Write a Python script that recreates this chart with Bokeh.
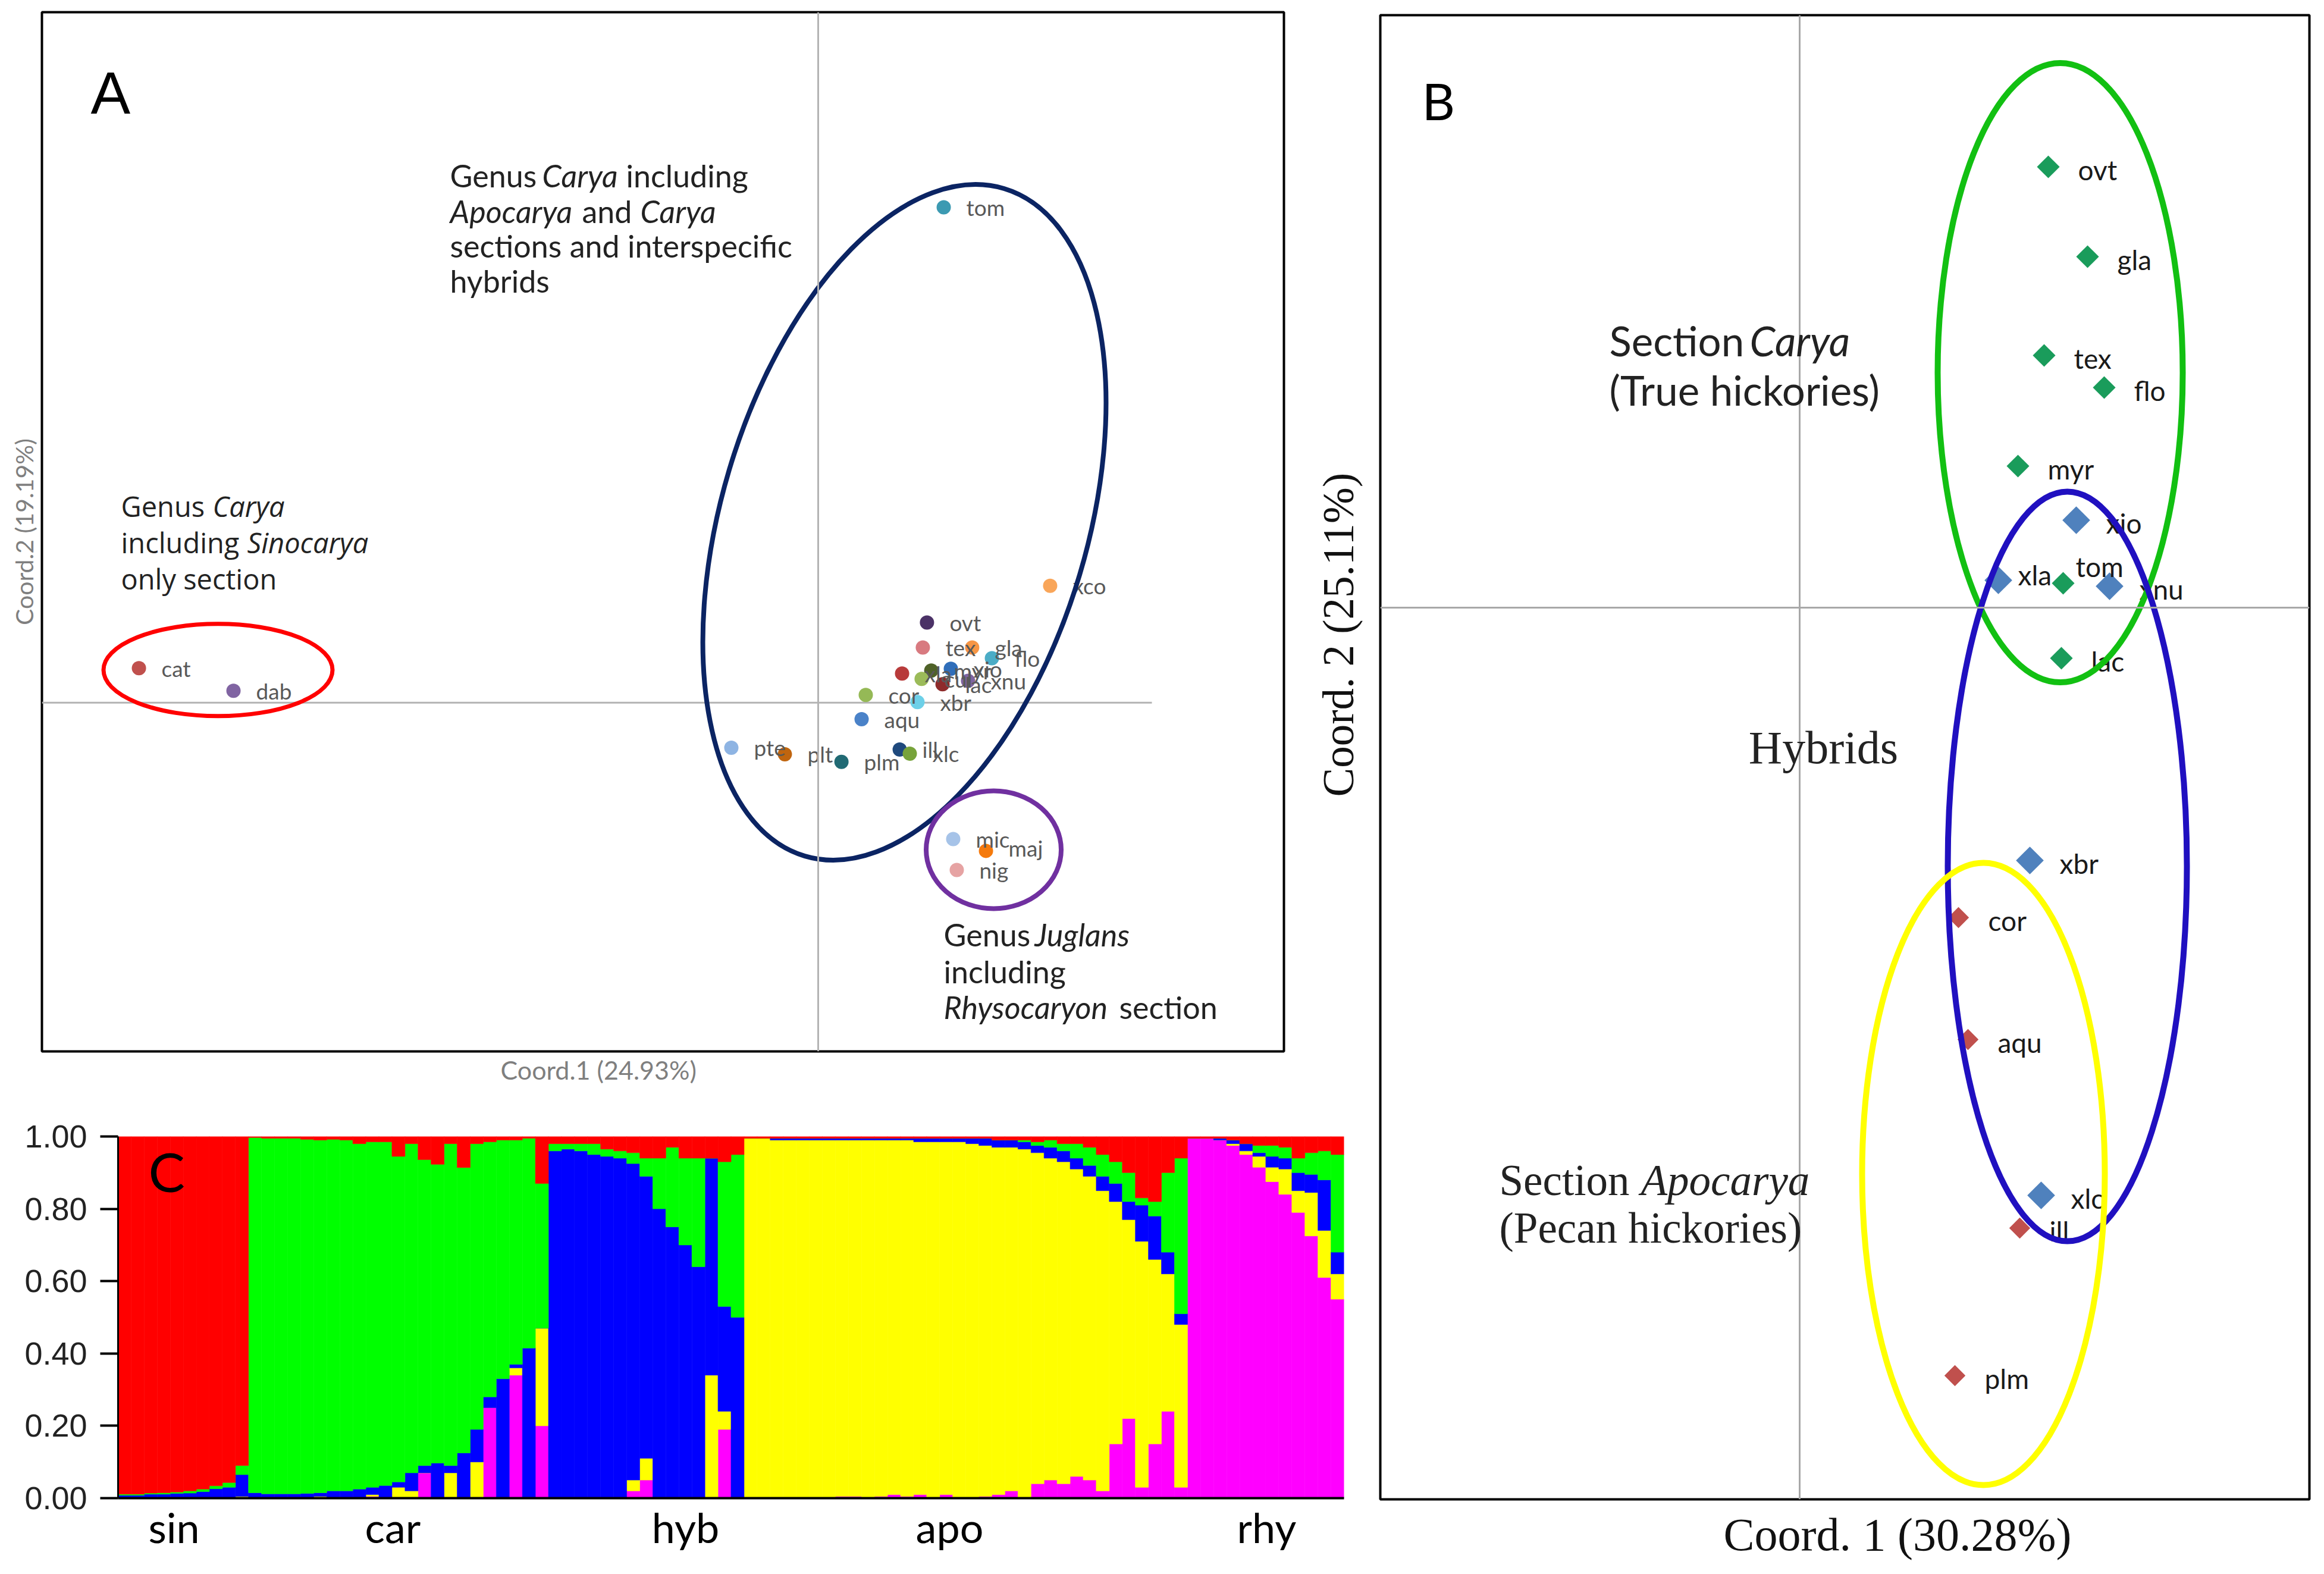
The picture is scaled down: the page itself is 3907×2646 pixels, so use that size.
import numpy as np
from bokeh.plotting import figure
from bokeh.models import (ColumnDataSource, Label, Span, FixedTicker, Title, GridBox,
                          PrintfTickFormatter, Range1d)
from bokeh.core.properties import value
from bokeh.embed import file_html
from bokeh.resources import INLINE

# ====================== DATA ======================
# Panel A : PCoA of all taxa (Coord.1 24.93 %, Coord.2 19.19 %)
a_species = ["tom", "xco", "ovt", "tex", "gla", "flo", "xla", "myr", "xio", "cul",
             "lac", "xnu", "cor", "xbr", "aqu", "pte", "plt", "plm", "ill", "xlc",
             "mic", "maj", "nig", "cat", "dab"]
a_coord1 = [0.847, 1.565, 0.734, 0.706, 1.039, 1.172, 0.566, 0.763, 0.895, 0.698,
            0.839, 1.011, 0.321, 0.670, 0.293, -0.586, -0.225, 0.157, 0.550, 0.618,
            0.911, 1.132, 0.935, -4.583, -3.945]
a_coord2 = [3.351, 0.791, 0.542, 0.373, 0.373, 0.301, 0.197, 0.217, 0.229, 0.161,
            0.124, 0.148, 0.052, 0.004, -0.112, -0.305, -0.349, -0.401, -0.317, -0.345,
            -0.923, -1.003, -1.132, 0.233, 0.080]

# Panel B : PCoA of Carya sections + hybrids (Coord.1 30.28 %, Coord.2 25.11 %)
b_species = ["ovt", "gla", "tex", "flo", "myr", "tom", "lac",
             "xio", "xla", "xnu", "xbr", "xlc",
             "cor", "aqu", "ill", "plm"]
b_group = ["Carya"] * 7 + ["Hybrid"] * 5 + ["Apocarya"] * 4
b_coord1 = [0.418, 0.484, 0.411, 0.512, 0.367, 0.443, 0.440,
            0.465, 0.334, 0.521, 0.387, 0.406,
            0.267, 0.283, 0.370, 0.261]
b_coord2 = [0.741, 0.590, 0.424, 0.370, 0.238, 0.041, -0.085,
            0.147, 0.046, 0.036, -0.425, -0.988,
            -0.521, -0.726, -1.043, -1.291]

# Panel C : STRUCTURE membership (K = 5), individuals grouped
c_groups = ["sin", "car", "hyb", "apo", "rhy"]
c_group_sizes = [10, 23, 15, 34, 12]
q_magenta = [0, 0, 0, 0, 0, 0, 0, 0, 0, 0,
             0, 0, 0, 0, 0, 0, 0, 0, 0, .005, 0, 0, 0, .07, 0, 0, 0, 0, .25, 0, .34, 0, .20,
             0, 0, 0, 0, 0, 0, .02, .05, 0, 0, 0, 0, 0, .19, 0,
             0, 0, 0, 0, 0, 0, 0, .005, .005, 0, .005, .01, .005, .01, 0, .01, 0, 0, .005, .01,
             .02, 0, .04, .05, .04, .06, .05, .02, .15, .22, .03, .15, .24, .03,
             .995, .995, .99, .975, .95, .915, .875, .84, .79, .725, .61, .55]
q_yellow = [0, 0, .002, 0, .002, 0, 0, .002, 0, .005,
            0, 0, 0, 0, 0, .005, 0, 0, 0, .005, 0, .03, .02, 0, 0, .07, 0, .10, 0, 0, .02, 0, .27,
            0, 0, 0, 0, 0, 0, .03, .06, 0, 0, 0, 0, .34, .05, 0,
            .995, .995, .99, .99, .99, .99, .99, .985, .985, .99, .985, .98, .985, .975, .985, .975, .985, .98,
            .97, .96, .95, .965, .915, .89, .89, .85, .84, .83, .67, .55, .68, .51, .38, .45,
            0, 0, 0, .005, .01, .03, .04, .07, .06, .12, .13, .07]
q_blue = [.008, .008, .009, .011, .011, .014, .018, .024, .03, .06,
          .015, .012, .012, .012, .013, .01, .02, .02, .025, .02, .035, .015, .05, .02, .097, .02, .125, .09, .03, .33, .01, .415, 0,
          .96, .965, .96, .95, .945, .94, .875, .78, .80, .75, .70, .64, .60, .29, .50,
          0, 0, .005, .005, .005, .005, .005, .005, .005, .005, .005, .005, .005, .01, .01, .01, .01, .015,
          .02, .02, .02, .02, .02, .03, .03, .03, .03, .04, .05, .05, .10, .12, .06, .03,
          0, 0, .005, .01, .02, .01, .03, .03, .05, .05, .14, .06]
q_green = [.003, .003, .003, .004, .004, .006, .007, .008, .013, .025,
           .982, .983, .983, .983, .979, .975, .972, .97, .955, .955, .95, .90, .91, .846, .826, .89, .789, .79, .705, .66, .62, .58, .40,
           .02, .015, .02, .03, .02, .02, .03, .05, .14, .22, .24, .30, 0, .40, .45,
           0, 0, 0, 0, 0, 0, 0, 0, 0, 0, 0, 0, 0, 0, 0, 0, 0, 0,
           0, 0, 0, .005, .01, .02, .02, .04, .05, .06, .06, .08, .02, .04, .22, .43,
           0, 0, 0, 0, 0, .02, .03, .03, .04, .06, .08, .27]
q_red = [.989, .989, .986, .985, .983, .98, .975, .966, .957, .91,
         .003, .005, .005, .005, .008, .01, .008, .01, .02, .015, .015, .055, .02, .064, .077, .02, .086, .02, .015, .01, .01, .005, .13,
         .02, .02, .02, .02, .035, .04, .045, .06, .06, .03, .06, .06, .06, .07, .05,
         .005, .005, .005, .005, .005, .005, .005, .005, .005, .005, .005, .005, .005, .005, .005, .005, .005, .005,
         .005, .01, .01, .01, .015, .01, .02, .02, .03, .05, .07, .10, .17, .18, .10, .06,
         .005, .005, .005, .01, .02, .025, .025, .03, .06, .045, .04, .05]
c_label_pos = [4.29, 21.07, 43.51, 63.76, 88.07]   # where the group names sit

# ====================== STYLE ======================
a_colors = {"tom": "#3c9ab2", "xco": "#f9a65a", "ovt": "#4b3267", "tex": "#d87a80",
            "gla": "#f79646", "flo": "#4bacc6", "xla": "#b83b3b", "myr": "#4f6228",
            "xio": "#2f6eba", "cul": "#9bbb59", "lac": "#8e2b2b", "xnu": "#7e64a0",
            "cor": "#95b956", "xbr": "#6dd0e8", "aqu": "#4a82c8", "pte": "#8eb4e3",
            "plt": "#c0650f", "plm": "#216a74", "ill": "#1f497d", "xlc": "#77a33a",
            "mic": "#a6c3e8", "maj": "#f57a0c", "nig": "#e6a3a3", "cat": "#c0504d",
            "dab": "#8064a2"}
a_label_dy = {"maj": -5}
b_style = {"Carya": ("#1a9c5b", 27), "Hybrid": ("#4f81bd", 33), "Apocarya": ("#c0504d", 25)}
b_label_off = {"xla": (33, -9), "tom": (21, -28)}
c_colors = ["#ff00ff", "#ffff00", "#0000ff", "#00ff00", "#ff0000"]
TXT = "#222222"
SER = "Liberation Serif"

def lab(fig, x, y, text, font="Lato", size=52, style="normal", color=TXT,
        align="left", baseline="middle", angle=0.0):
    fig.add_layout(Label(x=x, y=y, text=text, text_font=font,
                         text_font_size=f"{size}px", text_font_style=style,
                         text_color=color, text_align=align,
                         text_baseline=baseline, angle=angle))

def side_title(fig, text, side, align, offset, standoff, font, size, color, valign="bottom"):
    fig.add_layout(Title(text=text, align=align, offset=offset, standoff=standoff,
                         vertical_align=valign,
                         text_font=font, text_font_size=f"{size}px",
                         text_font_style="normal", text_color=color), side)

# page geometry (pixels)
MARGIN = 8
A_W, A_H = 2165, 1822
C_W, C_H = 2262, 812
B_W = 3899 - (MARGIN + A_W)
B_H = A_H + C_H

# ====================== PANEL A ======================
A_PX = 249.17
def ax(P): return (P - 1375) / A_PX
def ay(P): return (1184 - P) / A_PX

pa = figure(width=A_W, height=A_H, output_backend="svg", toolbar_location=None,
            x_axis_type=None, y_axis_type=None, frame_align=False,
            x_range=Range1d(ax(70), ax(2158)), y_range=Range1d(ay(1772), ay(20)),
            min_border_left=62, min_border_right=A_W - 62 - 2088,
            min_border_top=12, min_border_bottom=A_H - 12 - 1752)
pa.outline_line_color = "black"
pa.outline_line_width = 4
pa.add_layout(Span(location=0, dimension="height", line_color="#b4b4b4", line_width=3))
pa.segment(x0=[ax(70)], y0=[0], x1=[ax(1936)], y1=[0], line_color="#b4b4b4", line_width=3)

src_a = ColumnDataSource(dict(x=a_coord1, y=a_coord2, name=a_species,
                              color=[a_colors[s] for s in a_species],
                              dy=[a_label_dy.get(s, 0) for s in a_species]))
pa.scatter("x", "y", source=src_a, size=24, color="color", line_color=None)
pa.text("x", "y", text="name", source=src_a, x_offset=38, y_offset="dy",
        text_font=value("Lato"), text_font_size="37px", text_color="#595959",
        text_baseline="middle")

pa.ellipse(x=[ax(366)], y=[ay(1129)], width=385, height=155,
           width_units="screen", height_units="screen",
           fill_alpha=0, line_color="#ff0000", line_width=7)
pa.ellipse(x=[ax(1520)], y=[ay(880)], width=615, height=1171, angle=-0.29,
           width_units="screen", height_units="screen",
           fill_alpha=0, line_color="#0b2463", line_width=8)
pa.ellipse(x=[ax(1670)], y=[ay(1432)], width=227, height=198,
           width_units="screen", height_units="screen",
           fill_alpha=0, line_color="#7030a0", line_width=8)

lab(pa, ax(152), ay(156), "A", font="Liberation Sans", size=100, color="black")
# block 1
lab(pa, ax(756), ay(295), "Genus")
lab(pa, ax(911), ay(295), "Carya", style="italic")
lab(pa, ax(1052), ay(295), "including")
lab(pa, ax(756), ay(355), "Apocarya", style="italic")
lab(pa, ax(978), ay(355), "and")
lab(pa, ax(1076), ay(355), "Carya", style="italic")
lab(pa, ax(756), ay(414), "sections and interspecific")
lab(pa, ax(756), ay(473), "hybrids")
# block 2
lab(pa, ax(203), ay(853), "Genus", font="Open Sans", size=47)
lab(pa, ax(357), ay(853), "Carya", font="Open Sans", size=47, style="italic")
lab(pa, ax(203), ay(914), "including", font="Open Sans", size=47)
lab(pa, ax(415), ay(914), "Sinocarya", font="Open Sans", size=47, style="italic")
lab(pa, ax(203), ay(975), "only section", font="Open Sans", size=47)
# block 3
lab(pa, ax(1586), ay(1575), "Genus")
lab(pa, ax(1739), ay(1575), "Juglans", style="italic")
lab(pa, ax(1586), ay(1637), "including")
lab(pa, ax(1586), ay(1697), "Rhysocaryon", style="italic")
lab(pa, ax(1881), ay(1697), "section")
# axis titles
side_title(pa, "Coord.1 (24.93%)", "below", "left", 771, 10, "Lato", 43, "#7f7f7f", "top")
side_title(pa, "Coord.2 (19.19%)", "left", "center", 0, 11, "Lato", 41, "#7f7f7f")

# ====================== PANEL C ======================
n_ind = sum(c_group_sizes)
src_c = ColumnDataSource(dict(x=[i + 0.5 for i in range(n_ind)],
                              m=q_magenta, yl=q_yellow, bl=q_blue, gr=q_green, rd=q_red))
pc = figure(width=C_W, height=C_H, output_backend="svg", toolbar_location=None,
            x_range=Range1d(0, n_ind), y_range=Range1d(0, 1), frame_align=False,
            min_border_left=190, min_border_right=C_W - 190 - 2061,
            min_border_top=80, min_border_bottom=C_H - 80 - 608)
pc.outline_line_color = None
pc.border_fill_alpha = 0
pc.xgrid.visible = False
pc.ygrid.visible = False
pc.vbar_stack(["m", "yl", "bl", "gr", "rd"], x="x", width=1.0, color=c_colors,
              source=src_c, line_width=0.6)

pc.yaxis.ticker = FixedTicker(ticks=[0, 0.2, 0.4, 0.6, 0.8, 1.0])
pc.yaxis.formatter = PrintfTickFormatter(format="%.2f")
pc.yaxis.major_label_text_font = "Liberation Sans"
pc.yaxis.major_label_text_font_size = "54px"
pc.yaxis.major_label_text_color = "#222222"
pc.yaxis.major_tick_out = 30
pc.yaxis.major_tick_in = 0
pc.yaxis.minor_tick_out = 0
pc.yaxis.minor_tick_in = 0
pc.yaxis.major_tick_line_width = 4
pc.yaxis.axis_line_width = 3
pc.yaxis.major_label_standoff = 22

pc.xaxis.ticker = FixedTicker(ticks=c_label_pos)
pc.xaxis.major_label_overrides = {p: g for p, g in zip(c_label_pos, c_groups)}
pc.xaxis.major_label_text_font = "Lato"
pc.xaxis.major_label_text_font_size = "70px"
pc.xaxis.major_label_text_color = "black"
pc.xaxis.major_tick_out = 0
pc.xaxis.major_tick_in = 0
pc.xaxis.minor_tick_out = 0
pc.xaxis.minor_tick_in = 0
pc.xaxis.axis_line_width = 4
pc.xaxis.major_label_standoff = 6

lab(pc, 2.33, 0.905, "C", size=92, color="black")

# ====================== PANEL B ======================
def bx(P): return (P - 3025) / 1000
def by(P): return (1021 - P) / 1000

B_LB = 2320 - (MARGIN + A_W)
pb = figure(width=B_W, height=B_H, output_backend="svg", toolbar_location=None,
            x_axis_type=None, y_axis_type=None, frame_align=False,
            x_range=Range1d(bx(2320), bx(3882)), y_range=Range1d(by(2520), by(25)),
            min_border_left=B_LB, min_border_right=B_W - B_LB - 1562,
            min_border_top=17, min_border_bottom=B_H - 17 - 2495)
pb.outline_line_color = "black"
pb.outline_line_width = 4
pb.border_fill_alpha = 0
pb.add_layout(Span(location=0, dimension="height", line_color="#a8a8a8", line_width=3))
pb.add_layout(Span(location=0, dimension="width", line_color="#a8a8a8", line_width=3))

for grp in ["Carya", "Hybrid", "Apocarya"]:
    idx = [i for i, g in enumerate(b_group) if g == grp]
    col, sz = b_style[grp]
    pb.scatter([b_coord1[i] for i in idx], [b_coord2[i] for i in idx], marker="square",
               angle=np.pi / 4, size=sz, color=col, line_color=None)
src_b = ColumnDataSource(dict(x=b_coord1, y=b_coord2, name=b_species,
                              dx=[b_label_off.get(s, (50, 5))[0] for s in b_species],
                              dy=[b_label_off.get(s, (50, 5))[1] for s in b_species]))
pb.text("x", "y", text="name", source=src_b, x_offset="dx", y_offset="dy",
        text_font=value("Lato"), text_font_size="46px", text_color="#1a1a1a",
        text_baseline="middle")

pb.ellipse(x=[bx(3463)], y=[by(626)], width=412, height=1041,
           width_units="screen", height_units="screen",
           fill_alpha=0, line_color="#12c012", line_width=10)
pb.ellipse(x=[bx(3475)], y=[by(1456)], width=402, height=1260,
           width_units="screen", height_units="screen",
           fill_alpha=0, line_color="#2010c0", line_width=10)
pb.ellipse(x=[bx(3334)], y=[by(1973)], width=408, height=1046,
           width_units="screen", height_units="screen",
           fill_alpha=0, line_color="#ffff00", line_width=10)

lab(pb, bx(2390), by(168), "B", size=86, color="black")
lab(pb, bx(2705), by(572), "Section", size=69)
lab(pb, bx(2941), by(572), "Carya", size=69, style="italic")
lab(pb, bx(2705), by(655), "(True hickories)", size=69)
lab(pb, bx(3065), by(1256), "Hybrids", font=SER, size=78, align="center")
lab(pb, bx(2520), by(1984), "Section", font=SER, size=73)
lab(pb, bx(2758), by(1984), "Apocarya", font=SER, size=73, style="italic")
lab(pb, bx(2520), by(2064), "(Pecan hickories)", font=SER, size=73)
side_title(pb, "Coord. 1 (30.28%)", "below", "left", 577, 30, SER, 78, "#111111", "top")
side_title(pb, "Coord. 2 (25.11%)", "left", "left", 1181, 60, SER, 73, "#111111")

# ====================== LAYOUT ======================
grid = GridBox(children=[(pa, 1, 1, 1, 1), (pc, 2, 1, 1, 2), (pb, 1, 2, 2, 2)],
               rows=[f"{MARGIN}px", f"{A_H}px", f"{C_H}px"],
               cols=[f"{MARGIN}px", f"{A_W}px", f"{C_W - A_W}px", f"{B_W - (C_W - A_W)}px"])
open("out.html", "w").write(file_html(grid, INLINE))
